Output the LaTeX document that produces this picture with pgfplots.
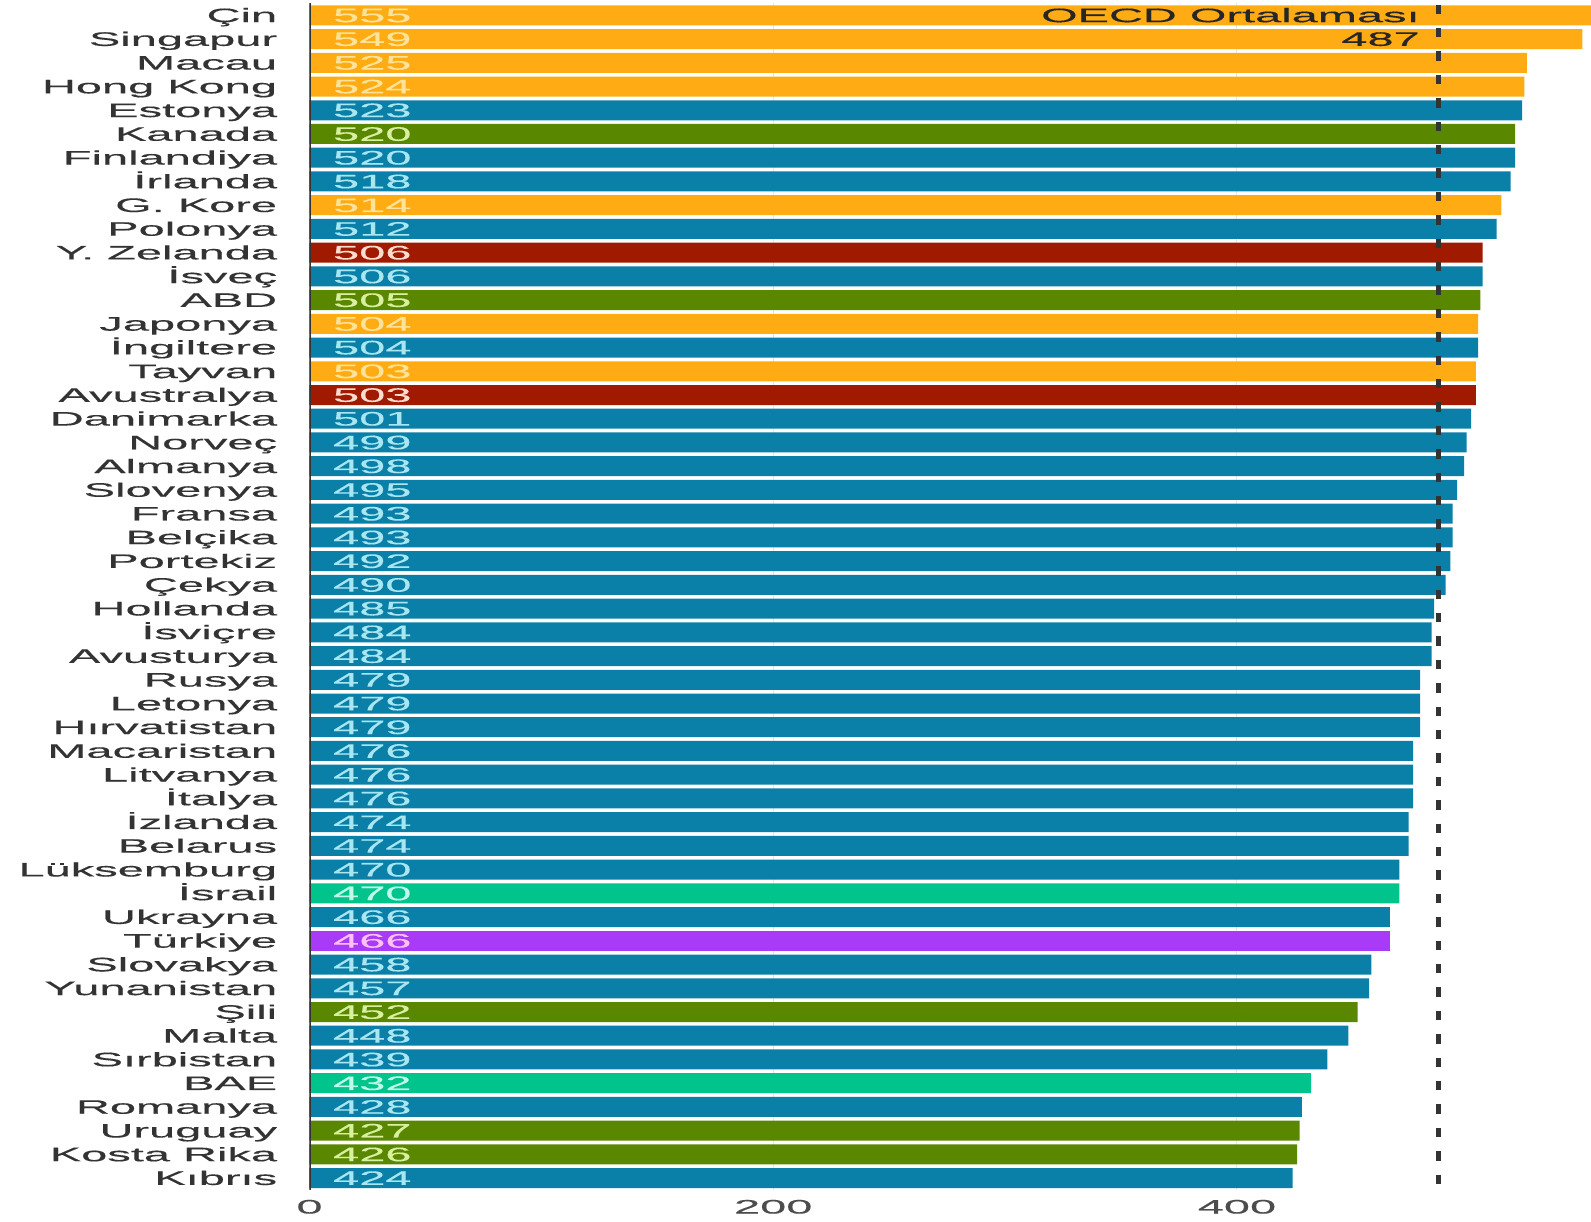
\documentclass[border=0pt]{standalone}
\usepackage{pgfplots}
\usepackage{pgfplotstable}
\pgfplotsset{compat=1.18}
\usepackage{fontspec}
\setmainfont[FakeStretch=2.41,FakeBold=0.4]{Liberation Sans}
\definecolor{cOr}{HTML}{FFAB14}
\definecolor{cBl}{HTML}{0A80A8}
\definecolor{cGr}{HTML}{5A8700}
\definecolor{cRd}{HTML}{A01A00}
\definecolor{cTe}{HTML}{00C48C}
\definecolor{cPu}{HTML}{A83BF7}
\definecolor{tOr}{HTML}{FFE39A}
\definecolor{tBl}{HTML}{A8E6F2}
\definecolor{tGr}{HTML}{D8F0A0}
\definecolor{tRd}{HTML}{FFDCD0}
\definecolor{tTe}{HTML}{C0FAE8}
\definecolor{tPu}{HTML}{FFC0F2}
\definecolor{txt}{HTML}{333333}

\pgfplotstableread{
idx val
0 555
1 549
2 525
3 524
8 514
13 504
15 503
}\tOrange
\pgfplotstableread{
idx val
4 523
6 520
7 518
9 512
11 506
14 504
17 501
18 499
19 498
20 495
21 493
22 493
23 492
24 490
25 485
26 484
27 484
28 479
29 479
30 479
31 476
32 476
33 476
34 474
35 474
36 470
38 466
40 458
41 457
43 448
44 439
46 428
49 424
}\tBlue
\pgfplotstableread{
idx val
5 520
12 505
42 452
47 427
48 426
}\tGreen
\pgfplotstableread{
idx val
10 506
16 503
}\tRed
\pgfplotstableread{
idx val
37 470
45 432
}\tTeal
\pgfplotstableread{
idx val
39 466
}\tPurple

\begin{document}
\fontsize{9.75pt}{10pt}\selectfont
\begin{tikzpicture}
\begin{axis}[
  scale only axis,
  width=640.75pt, height=593.25pt,
  xmin=0, xmax=552.7,
  ymin=-0.52, ymax=49.48,
  y dir=reverse,
  axis line style={draw=none},
  major tick length=0pt,
  xtick={0,200,400},
  ytick={0,...,49},
  yticklabels={Çin,Singapur,Macau,Hong Kong,Estonya,Kanada,Finlandiya,İrlanda,G. Kore,Polonya,Y. Zelanda,İsveç,ABD,Japonya,İngiltere,Tayvan,Avustralya,Danimarka,Norveç,Almanya,Slovenya,Fransa,Belçika,Portekiz,Çekya,Hollanda,İsviçre,Avusturya,Rusya,Letonya,Hırvatistan,Macaristan,Litvanya,İtalya,İzlanda,Belarus,Lüksemburg,İsrail,Ukrayna,Türkiye,Slovakya,Yunanistan,Şili,Malta,Sırbistan,BAE,Romanya,Uruguay,Kosta Rika,Kıbrıs},
  yticklabel style={inner sep=0pt, xshift=-16pt, anchor=base east, yshift=-3.4pt, text=txt, font=\fontsize{9.75pt}{10pt}\selectfont},
  xticklabel style={inner sep=0pt, anchor=north, yshift=-5pt, text=black!70, font=\fontsize{9.75pt}{10pt}\selectfont},
  /pgf/number format/assume math mode=true,
  xmajorgrids,
  grid style={gray!18, line width=0.5pt},
  bar width=10pt,
  every node near coord/.style={anchor=base west, yshift=-3.4pt, inner sep=0pt, font=\fontsize{9.75pt}{10pt}\selectfont},
]
% bars
\addplot[xbar, bar shift=0pt, fill=cOr, draw=none] table[x=val, y=idx] {\tOrange};
\addplot[xbar, bar shift=0pt, fill=cBl, draw=none] table[x=val, y=idx] {\tBlue};
\addplot[xbar, bar shift=0pt, fill=cGr, draw=none] table[x=val, y=idx] {\tGreen};
\addplot[xbar, bar shift=0pt, fill=cRd, draw=none] table[x=val, y=idx] {\tRed};
\addplot[xbar, bar shift=0pt, fill=cTe, draw=none] table[x=val, y=idx] {\tTeal};
\addplot[xbar, bar shift=0pt, fill=cPu, draw=none] table[x=val, y=idx] {\tPurple};
% value labels
\addplot[draw=none, mark=none, nodes near coords, point meta=explicit, every node near coord/.append style={text=tOr}] table[x expr=10, y=idx, meta=val] {\tOrange};
\addplot[draw=none, mark=none, nodes near coords, point meta=explicit, every node near coord/.append style={text=tBl}] table[x expr=10, y=idx, meta=val] {\tBlue};
\addplot[draw=none, mark=none, nodes near coords, point meta=explicit, every node near coord/.append style={text=tGr}] table[x expr=10, y=idx, meta=val] {\tGreen};
\addplot[draw=none, mark=none, nodes near coords, point meta=explicit, every node near coord/.append style={text=tRd}] table[x expr=10, y=idx, meta=val] {\tRed};
\addplot[draw=none, mark=none, nodes near coords, point meta=explicit, every node near coord/.append style={text=tTe}] table[x expr=10, y=idx, meta=val] {\tTeal};
\addplot[draw=none, mark=none, nodes near coords, point meta=explicit, every node near coord/.append style={text=tPu}] table[x expr=10, y=idx, meta=val] {\tPurple};
% zero line
\addplot[draw=txt, line width=1.5pt] coordinates {(0,-0.52) (0,49.5)};
% OECD average
\addplot[draw=black!80, line width=2.2pt, dash pattern=on 4.7pt off 7pt] coordinates {(487,-0.45) (487,49.48)};
\node[anchor=base east, yshift=-3.4pt, inner sep=0pt, text=black!85] at (axis cs:479,0) {OECD Ortalaması};
\node[anchor=base east, yshift=-3.4pt, inner sep=0pt, text=black!85] at (axis cs:479,1) {487};
\end{axis}
\pgfresetboundingbox
\path[use as bounding box] ([xshift=-154.75pt,yshift=1.5pt]current axis.north west) rectangle ([yshift=-16pt]current axis.south east);
\end{tikzpicture}
\end{document}
